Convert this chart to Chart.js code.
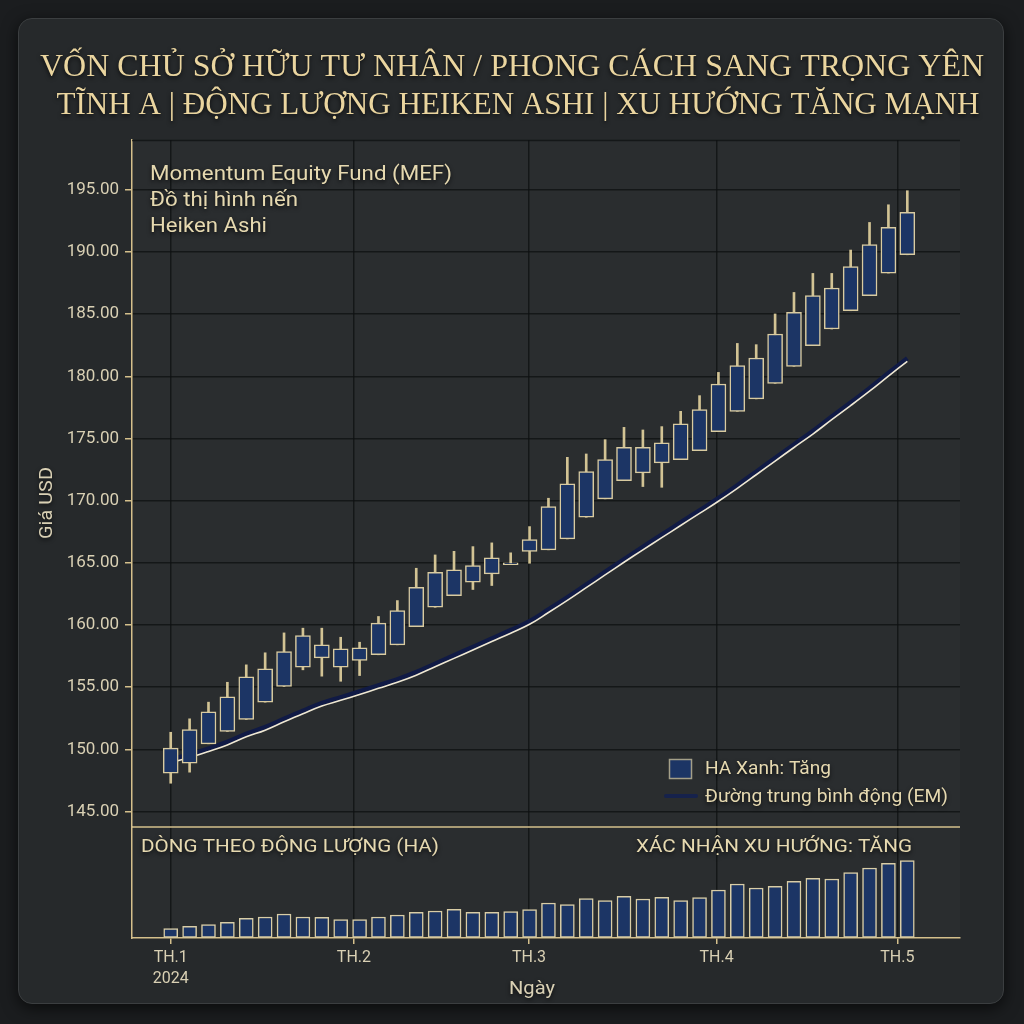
<!DOCTYPE html>
<html><head><meta charset="utf-8">
<script src="https://cdn.jsdelivr.net/npm/chart.js@4.4.1/dist/chart.umd.min.js"></script>
<style>
html,body{margin:0;padding:0;background:#1b1d1f;width:1024px;height:1024px;overflow:hidden}
#card{position:absolute;left:18px;top:18px;width:984px;height:984px;border-radius:14px;background:#26292b;border:1px solid #3b3e40;box-shadow:0 4px 16px rgba(0,0,0,0.65)}
#wrap{position:absolute;left:0;top:0;width:1024px;height:1024px}
</style></head><body>
<div id="card"></div>
<div id="wrap"><canvas id="c" width="1024" height="1024"></canvas></div>
<script>
// ---- data ----
const titleLines = ['VỐN CHỦ SỞ HỮU TƯ NHÂN / PHONG CÁCH SANG TRỌNG YÊN', 'TĨNH A | ĐỘNG LƯỢNG HEIKEN ASHI | XU HƯỚNG TĂNG MẠNH'];
const noteLines = ['Momentum Equity Fund (MEF)', 'Đồ thị hình nến', 'Heiken Ashi'];
const openVals  = [148.08,148.88,150.44,151.43,152.40,153.79,155.05,156.60,157.35,156.60,157.14,157.60,158.40,159.87,161.42,162.36,163.43,164.11,164.85,165.92,166.04,166.92,168.66,170.14,171.61,172.23,173.03,173.30,174.02,175.55,177.18,178.18,179.43,180.80,182.46,183.80,185.27,186.48,188.30,189.77];
const closeVals = [150.09,151.59,153.01,154.22,155.83,156.47,157.86,159.15,158.40,158.08,158.16,160.14,161.16,163.03,164.24,164.43,164.77,165.39,165.00,166.86,169.52,171.34,172.33,173.30,174.28,174.28,174.64,176.17,177.32,179.38,180.85,181.47,183.40,185.14,186.48,187.10,188.83,190.58,191.97,193.18];
const highVals  = [151.37,152.45,153.79,155.39,156.79,157.76,159.36,159.74,159.74,159.01,158.61,160.68,161.96,164.56,165.63,165.92,166.30,166.60,165.80,167.91,170.19,173.48,173.75,174.90,175.89,175.68,175.95,177.18,178.44,180.31,182.64,182.54,185.01,186.74,188.27,188.27,190.15,192.37,193.79,194.92];
const lowVals   = [147.27,148.16,150.44,151.43,152.40,153.79,155.05,156.39,155.88,155.47,155.93,157.60,158.40,159.87,161.42,162.36,162.85,163.17,164.85,164.96,166.04,166.92,168.66,170.14,171.61,171.13,171.07,173.30,174.02,175.55,177.18,178.18,179.43,180.80,182.46,183.80,185.27,186.48,188.30,189.77];
const emVals    = [148.94,149.34,149.82,150.35,151.00,151.54,152.21,152.86,153.48,153.94,154.41,154.90,155.39,155.96,156.64,157.31,157.99,158.67,159.34,160.05,161.00,161.98,163.00,164.02,165.04,166.04,167.02,168.00,168.97,169.95,170.99,172.08,173.18,174.27,175.35,176.51,177.64,178.80,180.01,181.20];
const volVals   = [9.3,11.7,13.3,15.7,19.7,21.0,24.0,21.0,20.7,18.3,18.3,21.0,23.0,25.7,27.0,28.7,25.7,25.7,26.3,28.3,35.0,33.3,39.3,37.3,41.7,39.0,40.7,37.3,40.3,48.0,54.0,50.0,51.7,56.7,59.7,59.0,65.3,70.0,74.7,77.3];
const priceTicks = [145,150,155,160,165,170,175,180,185,190,195];
const monthTickPos = [0, 9.7, 18.97, 28.9, 38.47];
const monthTickLabels = ['TH.1','TH.2','TH.3','TH.4','TH.5'];
const yearLabel = '2024';
const legendLabels = ['HA Xanh: Tăng', 'Đường trung bình động (EM)'];
const panelLabels = ['DÒNG THEO ĐỘNG LƯỢNG (HA)', 'XÁC NHẬN XU HƯỚNG: TĂNG'];
const yTitle = 'Giá USD';
const xTitle = 'Ngày';

// ---- styles ----
const GOLD = '#d5c08c';
const CREAM = '#e6d9b0';
const TICK = '#d9d0b4';
const NAVY = '#1c3565';
const GRID = 'rgba(14,16,18,0.75)';

const bodyData = openVals.map((o,i)=>({x:i, y:[o, closeVals[i]]}));
const wickData = lowVals.map((l,i)=>({x:i, y:[l, highVals[i]]}));
const emData = emVals.map((v,i)=>({x:i, y:v}));
const volData = volVals.map((v,i)=>({x:i, y:v}));

function fitText(ctx, text, x, y, font, color, align, width) {
  ctx.save();
  ctx.font = font; ctx.fillStyle = color; ctx.textBaseline = 'middle'; ctx.textAlign = align;
  const w = ctx.measureText(text).width;
  const sx = width ? width / w : 1;
  ctx.translate(x, y); ctx.scale(sx, 1);
  ctx.fillText(text, 0, 0);
  ctx.restore();
}

const decor = {
  id: 'decor',
  beforeDraw(chart) {
    const {ctx, chartArea: a} = chart;
    ctx.save();
    ctx.fillStyle = '#2a2d2f';
    ctx.fillRect(a.left, a.top, a.right - a.left, a.bottom - a.top);
    ctx.restore();
  },
  beforeDatasetDraw(chart, args) {
    if (args.index === 2) { chart.ctx.save(); chart.ctx.translate(0, -3); }
  },
  afterDatasetDraw(chart, args) {
    if (args.index === 2) { chart.ctx.restore(); }
  },
  afterDraw(chart) {
    const {ctx, chartArea: a, scales} = chart;
    ctx.save();
    ctx.strokeStyle = GRID; ctx.lineWidth = 1.5;
    ctx.beginPath(); ctx.moveTo(a.left, a.top + 0.5); ctx.lineTo(a.right, a.top + 0.5); ctx.stroke();
    const sep = scales.y.bottom;
    ctx.strokeStyle = GOLD; ctx.lineWidth = 1.5;
    ctx.beginPath(); ctx.moveTo(a.left, sep); ctx.lineTo(a.right, sep); ctx.stroke();
    ctx.restore();

    ctx.save();
    ctx.shadowColor = 'rgba(0,0,0,0.7)'; ctx.shadowBlur = 4; ctx.shadowOffsetY = 2;
    const g = ctx.createLinearGradient(0, 45, 0, 125);
    g.addColorStop(0, '#ead59f'); g.addColorStop(0.5, '#d3b676'); g.addColorStop(1, '#c9ab6c');
    fitText(ctx, titleLines[0], 512, 68, '31px "Liberation Serif", "DejaVu Serif", serif', g, 'center', 944);
    fitText(ctx, titleLines[1], 518, 106, '31px "Liberation Serif", "DejaVu Serif", serif', g, 'center', 923);
    fitText(ctx, noteLines[0], 150, 175, '20px Roboto', CREAM, 'left', 302);
    fitText(ctx, noteLines[1], 150, 201, '20px Roboto', CREAM, 'left', 148);
    fitText(ctx, noteLines[2], 150, 227, '20px Roboto', CREAM, 'left', 117);
    fitText(ctx, panelLabels[0], 141, 847, '19px Roboto', CREAM, 'left', 298);
    fitText(ctx, panelLabels[1], 912, 847, '19px Roboto', CREAM, 'right', 276);
    fitText(ctx, legendLabels[0], 705, 769, '18px Roboto', CREAM, 'left', 126);
    fitText(ctx, legendLabels[1], 705, 797, '18px Roboto', CREAM, 'left', 243);
    fitText(ctx, xTitle, 532, 989, '19px Roboto', TICK, 'center', 46);
    ctx.save(); ctx.translate(47, 503); ctx.rotate(-Math.PI/2);
    fitText(ctx, yTitle, 0, 0, '18px Roboto', TICK, 'center', 72);
    ctx.restore();
    ctx.restore();
    ctx.save();
    ctx.fillStyle = NAVY; ctx.fillRect(669, 759, 23, 20);
    ctx.strokeStyle = '#a49f88'; ctx.lineWidth = 1.5; ctx.strokeRect(669.5, 759.5, 22, 19);
    ctx.strokeStyle = '#16224c'; ctx.lineWidth = 4; ctx.lineCap = 'round';
    ctx.beginPath(); ctx.moveTo(666, 796); ctx.lineTo(696, 796); ctx.stroke();
    ctx.restore();
  }
};

new Chart(document.getElementById('c'), {
  type: 'bar',
  data: {
    datasets: [
      { label: 'body', data: bodyData, yAxisID: 'y', grouped: false, barThickness: 15,
        backgroundColor: NAVY, borderColor: '#d9cba0', borderWidth: 1.5, borderSkipped: false, order: 1 },
      { label: 'wick', data: wickData, yAxisID: 'y', grouped: false, barThickness: 2,
        backgroundColor: '#d2c394', borderWidth: 0, order: 2 },
      { type: 'line', label: 'em-navy', data: emData, yAxisID: 'y', borderColor: '#101a45', borderWidth: 4.5,
        pointRadius: 0, tension: 0.4, order: 4 },
      { type: 'line', label: 'em-white', data: emData, yAxisID: 'y', borderColor: '#efe8d4', borderWidth: 1.6,
        pointRadius: 0, tension: 0.4, order: 3 },
      { label: 'vol', data: volData, yAxisID: 'yv', grouped: false, barThickness: 14,
        backgroundColor: NAVY, borderColor: '#d9cda6', borderWidth: 1.5, borderSkipped: false, order: 5 }
    ]
  },
  options: {
    responsive: false, animation: false, devicePixelRatio: 1,
    layout: { padding: { top: 140, right: 64, bottom: 0, left: 0 } },
    plugins: { legend: { display: false }, tooltip: { enabled: false }, title: { display: false } },
    scales: {
      x: {
        type: 'linear', position: 'bottom', min: -2.05, max: 41.79, offset: false,
        afterBuildTicks: s => { s.ticks = monthTickPos.map(v => ({ value: v })); },
        afterFit: s => { s.height = 86; },
        ticks: {
          autoSkip: false, maxRotation: 0, color: TICK, padding: 4,
          font: { family: 'Roboto', size: 16, lineHeight: 1.3 },
          callback: (v, i) => i === 0 ? [monthTickLabels[i], yearLabel] : monthTickLabels[i]
        },
        grid: { offset: false, color: GRID, lineWidth: 1.5, tickColor: GOLD, tickLength: 6, tickWidth: 1.5 },
        border: { color: GOLD, width: 1.5 }
      },
      y: {
        type: 'linear', position: 'left', stack: 'main', stackWeight: 687, weight: 2,
        min: 143.75, max: 199.0,
        afterBuildTicks: s => { s.ticks = priceTicks.map(v => ({ value: v })); },
        afterFit: s => { s.width = 132; },
        ticks: { color: TICK, padding: 6, font: { family: 'Roboto', size: 17 }, callback: v => v.toFixed(2) },
        grid: { color: GRID, lineWidth: 1.5, tickColor: GOLD, tickLength: 7, tickWidth: 1.5 },
        border: { color: GOLD, width: 1.5 }
      },
      yv: {
        type: 'linear', position: 'left', stack: 'main', stackWeight: 111, weight: 1,
        min: 0, max: 111,
        afterFit: s => { s.width = 132; },
        ticks: { display: false },
        grid: { drawOnChartArea: false, drawTicks: false },
        border: { color: GOLD, width: 1.5 }
      }
    }
  },
  plugins: [decor]
});
</script>
</body></html>
